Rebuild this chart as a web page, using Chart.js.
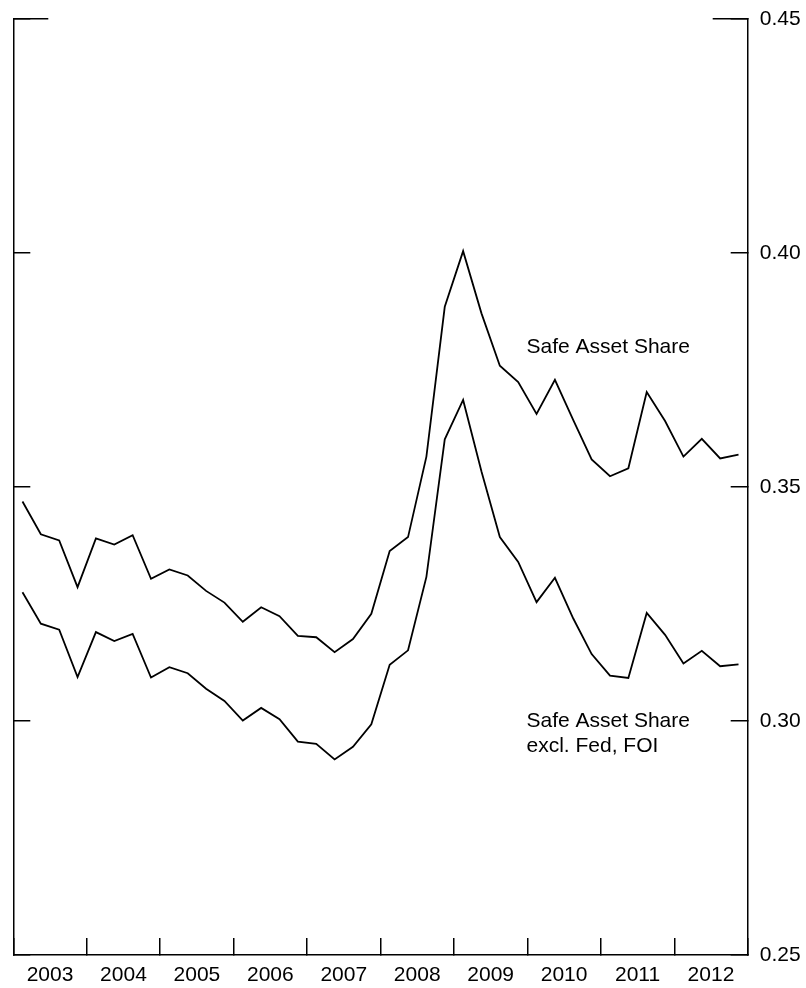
<!DOCTYPE html>
<html>
<head>
<meta charset="utf-8">
<script src="https://cdn.jsdelivr.net/npm/chart.js@4/dist/chart.umd.min.js"></script>
<style>
html,body{margin:0;padding:0;background:#fff;overflow:hidden}
#wrap{width:806px;height:988px;position:relative}
</style>
</head>
<body>
<div id="wrap"><canvas id="c"></canvas></div>
<script>
// ---- data ----
const quarters = [
  '2003Q1','2003Q2','2003Q3','2003Q4','2004Q1','2004Q2','2004Q3','2004Q4',
  '2005Q1','2005Q2','2005Q3','2005Q4','2006Q1','2006Q2','2006Q3','2006Q4',
  '2007Q1','2007Q2','2007Q3','2007Q4','2008Q1','2008Q2','2008Q3','2008Q4',
  '2009Q1','2009Q2','2009Q3','2009Q4','2010Q1','2010Q2','2010Q3','2010Q4',
  '2011Q1','2011Q2','2011Q3','2011Q4','2012Q1','2012Q2','2012Q3','2012Q4'
];
const safeAssetShare = [
  0.3469, 0.3399, 0.3386, 0.3286, 0.3390, 0.3377, 0.3397, 0.3304,
  0.3324, 0.3311, 0.3278, 0.3253, 0.3212, 0.3243, 0.3224, 0.3182,
  0.3179, 0.3147, 0.3175, 0.3229, 0.3363, 0.3393, 0.3565, 0.3885,
  0.4004, 0.3871, 0.3759, 0.3724, 0.3656, 0.3729, 0.3643, 0.3559,
  0.3523, 0.3540, 0.3703, 0.3641, 0.3565, 0.3603, 0.3561, 0.3569
];
const safeAssetShareExFedFOI = [
  0.3275, 0.3208, 0.3195, 0.3094, 0.3190, 0.3171, 0.3186, 0.3093,
  0.3115, 0.3102, 0.3069, 0.3043, 0.3001, 0.3028, 0.3004, 0.2956,
  0.2951, 0.2918, 0.2945, 0.2993, 0.3120, 0.3151, 0.3308, 0.3602,
  0.3686, 0.3533, 0.3393, 0.3340, 0.3254, 0.3306, 0.3219, 0.3143,
  0.3097, 0.3092, 0.3231, 0.3184, 0.3123, 0.3150, 0.3117, 0.3121
];
const yearLabels = ['2003','2004','2005','2006','2007','2008','2009','2010','2011','2012'];
const valueTicks = [0.25, 0.30, 0.35, 0.40, 0.45];
const topTick = [0.45];
const seriesLabels = ['Safe Asset Share', 'Safe Asset Share excl. Fed, FOI'];

// ---- helpers ----
const BLACK = '#000';
const AXIS_W = 1.5;
function fixSize(w, h) {
  return function (s) {
    if (w !== null) s.width = w;
    if (h !== null) s.height = h;
    s.paddingTop = 0; s.paddingBottom = 0; s.paddingLeft = 0; s.paddingRight = 0;
  };
}
function setTicks(values) {
  return function (s) { s.ticks = values.map(v => ({ value: v })); };
}

Chart.defaults.font.family = '"Liberation Sans", Arial, Helvetica, sans-serif';
Chart.defaults.font.size = 21;
Chart.defaults.color = BLACK;

const annotations = {
  id: 'annotations',
  afterDatasetsDraw(chart) {
    const ctx = chart.ctx;
    ctx.save();
    ctx.fillStyle = BLACK;
    ctx.font = '21px "Liberation Sans", Arial, sans-serif';
    ctx.textAlign = 'left';
    ctx.textBaseline = 'alphabetic';
    ctx.fillText('Safe Asset Share', 526.5, 353);
    ctx.fillText('Safe Asset Share', 526.5, 727);
    ctx.fillText('excl. Fed, FOI', 526.5, 752);
    ctx.restore();
  }
};

new Chart(document.getElementById('c'), {
  type: 'line',
  data: {
    datasets: [
      {
        label: seriesLabels[0],
        data: safeAssetShare.map((v, i) => ({ x: i, y: v })),
        borderColor: BLACK, borderWidth: 1.8, pointRadius: 0, tension: 0, fill: false,
        xAxisID: 'x', yAxisID: 'y'
      },
      {
        label: seriesLabels[1],
        data: safeAssetShareExFedFOI.map((v, i) => ({ x: i, y: v })),
        borderColor: BLACK, borderWidth: 1.8, pointRadius: 0, tension: 0, fill: false,
        xAxisID: 'x', yAxisID: 'y'
      }
    ]
  },
  options: {
    responsive: true,
    maintainAspectRatio: false,
    animation: false,
    events: [],
    layout: { padding: { top: 19, left: 0, right: 0, bottom: 0 } },
    plugins: { legend: { display: false }, tooltip: { enabled: false } },
    scales: {
      x: {
        type: 'linear', position: 'bottom', min: -0.5, max: quarters.length - 0.5, bounds: 'data',
        afterBuildTicks: s => { s.ticks = yearLabels.map((l, k) => ({ value: 4 * k + 1.5 })); },
        ticks: { autoSkip: false, maxRotation: 0, minRotation: 0, padding: 24.5, color: BLACK,
                 callback: (v, i) => yearLabels[i] },
        grid: { offset: true, drawOnChartArea: false, drawTicks: true, tickLength: -17, color: BLACK, lineWidth: AXIS_W },
        border: { display: true, color: BLACK, width: AXIS_W },
        afterFit: fixSize(null, 33)
      },
      yL: {
        type: 'linear', position: 'left', weight: 1, min: 0.25, max: 0.45, bounds: 'data',
        afterBuildTicks: setTicks(valueTicks),
        ticks: { display: false },
        grid: { drawOnChartArea: false, drawTicks: true, tickLength: -17, color: BLACK, lineWidth: AXIS_W },
        border: { display: true, color: BLACK, width: AXIS_W },
        afterFit: fixSize(13.3, null)
      },
      yLTop: {
        type: 'linear', position: 'left', weight: 0, min: 0.25, max: 0.45, bounds: 'data',
        afterBuildTicks: setTicks(topTick),
        ticks: { display: false },
        grid: { drawOnChartArea: false, drawTicks: true, tickLength: -35, color: BLACK, lineWidth: AXIS_W },
        border: { display: false },
        afterFit: fixSize(0, null)
      },
      y: {
        type: 'linear', position: 'right', weight: 1, min: 0.25, max: 0.45, bounds: 'data',
        afterBuildTicks: setTicks(valueTicks),
        ticks: { padding: 29, color: BLACK, crossAlign: 'near', callback: v => Number(v).toFixed(2) },
        grid: { drawOnChartArea: false, drawTicks: true, tickLength: -17, color: BLACK, lineWidth: AXIS_W },
        border: { display: true, color: BLACK, width: AXIS_W },
        afterFit: fixSize(58.3, null)
      },
      yRTop: {
        type: 'linear', position: 'right', weight: 0, min: 0.25, max: 0.45, bounds: 'data',
        afterBuildTicks: setTicks(topTick),
        ticks: { display: false },
        grid: { drawOnChartArea: false, drawTicks: true, tickLength: -35, color: BLACK, lineWidth: AXIS_W },
        border: { display: false },
        afterFit: fixSize(0, null)
      }
    }
  },
  plugins: [annotations]
});
</script>
</body>
</html>
